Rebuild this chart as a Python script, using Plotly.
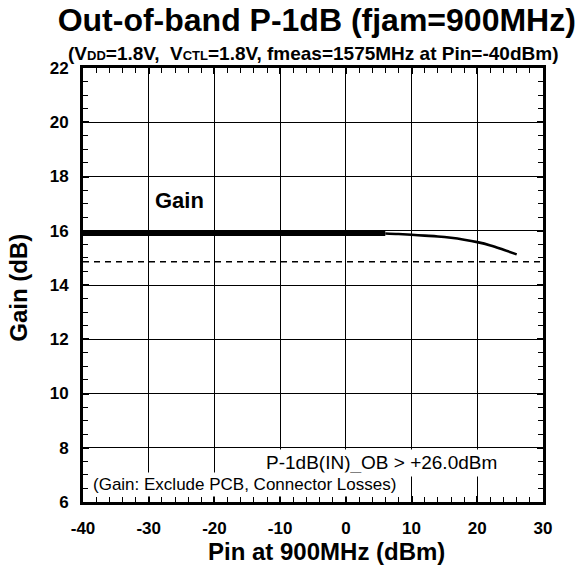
import plotly.graph_objects as go

# Data
pin_linear = [-40, -30, -20, -10, 0, 6]
gain_linear = [15.9, 15.9, 15.9, 15.9, 15.9, 15.9]
pin_comp = [6, 8, 10, 12, 14, 16, 18, 20, 22, 24, 26]
gain_comp = [15.9, 15.88, 15.85, 15.82, 15.79, 15.74, 15.67, 15.58, 15.46, 15.3, 15.13]
p1db_ref_x = [-40, 30]
p1db_ref_y = [14.86, 14.86]
x_ticks = [-40, -30, -20, -10, 0, 10, 20, 30]
y_ticks = [6, 8, 10, 12, 14, 16, 18, 20, 22]

FONT = "Liberation Sans"

fig = go.Figure()
fig.add_trace(go.Scatter(x=p1db_ref_x, y=p1db_ref_y, mode="lines",
                         line=dict(color="black", width=1.5, dash="6px,5px"),
                         showlegend=False, hoverinfo="skip"))
fig.add_trace(go.Scatter(x=pin_linear, y=gain_linear, mode="lines",
                         line=dict(color="black", width=5), showlegend=False))
fig.add_trace(go.Scatter(x=pin_comp, y=gain_comp, mode="lines",
                         line=dict(color="black", width=2.6, shape="spline"), showlegend=False))

axis_common = dict(
    showgrid=True, gridcolor="black", gridwidth=1.2,
    showline=True, linecolor="black", linewidth=3, mirror="allticks",
    ticks="inside", ticklen=6, tickwidth=1.5, tickcolor="black",
    zeroline=False,
    tickfont=dict(family=FONT, size=17, color="black", weight="bold"),
)

fig.update_xaxes(range=[-40, 30], tickmode="array", tickvals=x_ticks,
                 ticktext=[str(v) for v in x_ticks], ticklabelstandoff=9,
                 minor=dict(dtick=2, tick0=-40, ticks="inside", ticklen=5, tickwidth=1.2,
                            tickcolor="black", showgrid=False),
                 **axis_common)
fig.update_yaxes(range=[6, 22], tickmode="array", tickvals=y_ticks,
                 ticktext=[str(v) for v in y_ticks], ticklabelstandoff=8,
                 minor=dict(dtick=0.5, tick0=6, ticks="inside", ticklen=5, tickwidth=1.2,
                            tickcolor="black", showgrid=False),
                 **axis_common)

sub = ('(V<span style="font-size:13px">DD</span>=1.8V,  '
       'V<span style="font-size:13px">CTL</span>=1.8V, fmeas=1575MHz at Pin=-40dBm)')

annotations = [
    dict(text=sub, xref="paper", yref="paper", x=0.499, y=1.033, xanchor="center",
         yanchor="middle", showarrow=False,
         font=dict(family=FONT, size=19, color="black", weight="bold")),
    dict(text="Gain", xref="x", yref="y", x=-25.3, y=17.1, xanchor="center",
         yanchor="middle", showarrow=False,
         font=dict(family=FONT, size=22, color="black", weight="bold")),
    dict(text="P-1dB(IN)_OB > +26.0dBm", xref="x", yref="y", x=5.4, y=7.43,
         xanchor="center", yanchor="middle", showarrow=False, bgcolor="white", borderpad=2,
         font=dict(family=FONT, size=19, color="black")),
    dict(text="(Gain: Exclude PCB, Connector Losses)", xref="x", yref="y", x=-39.0, y=6.65,
         xanchor="left", yanchor="middle", showarrow=False, bgcolor="white", borderpad=2,
         font=dict(family=FONT, size=17, color="black")),
    dict(text="Pin at 900MHz (dBm)", xref="paper", yref="paper", x=0.53, y=-0.113,
         xanchor="center", yanchor="middle", showarrow=False,
         font=dict(family=FONT, size=24, color="black", weight="bold")),
    dict(text="Gain (dB)", xref="paper", yref="paper", x=-0.141, y=0.494, textangle=-90,
         xanchor="center", yanchor="middle", showarrow=False,
         font=dict(family=FONT, size=24, color="black", weight="bold")),
]

fig.update_layout(
    width=578, height=568,
    margin=dict(l=83, r=35, t=68, b=66),
    paper_bgcolor="white", plot_bgcolor="white",
    title=dict(text="Out-of-band P-1dB (fjam=900MHz)", x=0.548, xref="container",
               y=1 - 20 / 568, yref="container", xanchor="center", yanchor="middle",
               font=dict(family=FONT, size=32, color="black", weight="bold")),
    annotations=annotations,
    showlegend=False,
)

fig.write_html("out.html")
